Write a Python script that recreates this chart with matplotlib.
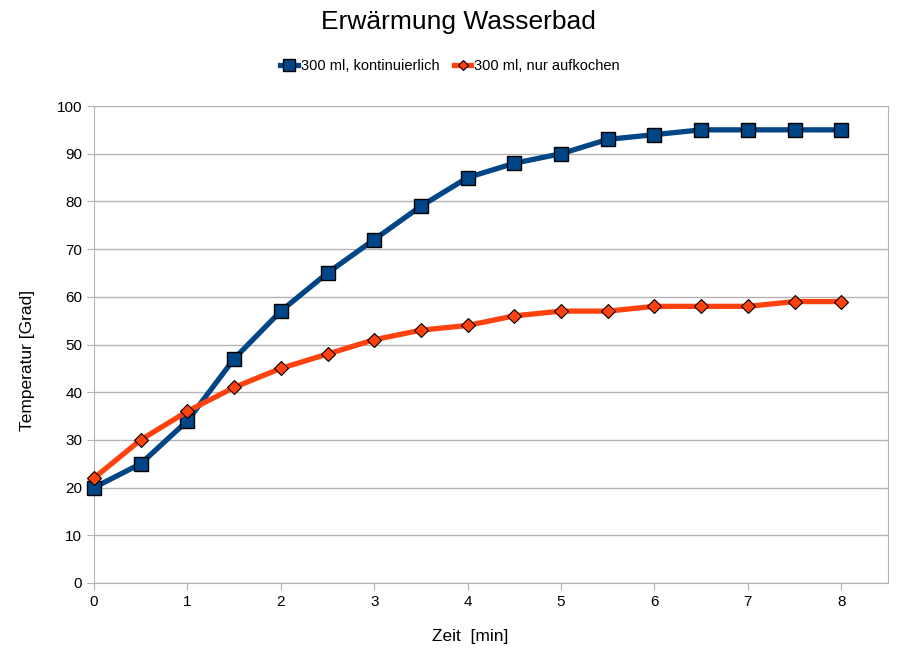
import matplotlib.pyplot as plt

plt.rcParams['font.family'] = ['Liberation Sans', 'DejaVu Sans']

# Daten
zeit = [0, 0.5, 1, 1.5, 2, 2.5, 3, 3.5, 4, 4.5, 5, 5.5, 6, 6.5, 7, 7.5, 8]
kontinuierlich = [20, 25, 34, 47, 57, 65, 72, 79, 85, 88, 90, 93, 94, 95, 95, 95, 95]
aufkochen = [22, 30, 36, 41, 45, 48, 51, 53, 54, 56, 57, 57, 58, 58, 58, 59, 59]

blau = '#004586'
orange = '#ff420e'

fig = plt.figure(figsize=(9.17, 6.57), dpi=100)
ax = fig.add_axes([94 / 917, 1 - 583 / 657, (888 - 94) / 917, (583 - 106) / 657])

ax.plot(zeit, kontinuierlich, color=blau, lw=3.8, marker='s', ms=10,
        mfc=blau, mec='black', mew=1.0, label='300 ml, kontinuierlich',
        zorder=3, clip_on=False)
ax.plot(zeit, aufkochen, color=orange, lw=3.8, marker='D', ms=6.8,
        mfc=orange, mec='black', mew=0.8, label='300 ml, nur aufkochen',
        zorder=3, clip_on=False)

ax.set_xlim(0, 8.5)
ax.set_ylim(0, 100)
ax.set_xticks(range(0, 9))
ax.set_yticks(range(0, 101, 10))
ax.grid(axis='y', color='#b3b3b3', lw=1)
ax.set_axisbelow(True)
for s in ax.spines.values():
    s.set_color('#b3b3b3')
ax.tick_params(colors='#b3b3b3', labelcolor='black', labelsize=11, length=5)

ax.set_xlabel('Zeit  [min]', fontsize=12.5)
ax.set_ylabel('Temperatur [Grad]', fontsize=12.5)
ax.xaxis.set_label_coords((470 - 94) / 794, (583 - 637) / 477)
ax.yaxis.set_label_coords((28 - 94) / 794, (583 - 360) / 477)
ax.xaxis.label.set_va('center')
ax.yaxis.label.set_va('center')

fig.text(0.5, 1 - 22 / 657, 'Erwärmung Wasserbad', fontsize=19, ha='center', va='center')
fig.legend(loc='center', bbox_to_anchor=(450 / 917, 1 - 66 / 657), ncol=2, frameon=False,
           fontsize=10.5, handlelength=1.2, handletextpad=0.2, columnspacing=1.0,
           markerscale=0.8)

fig.savefig('out.png', dpi=100)
